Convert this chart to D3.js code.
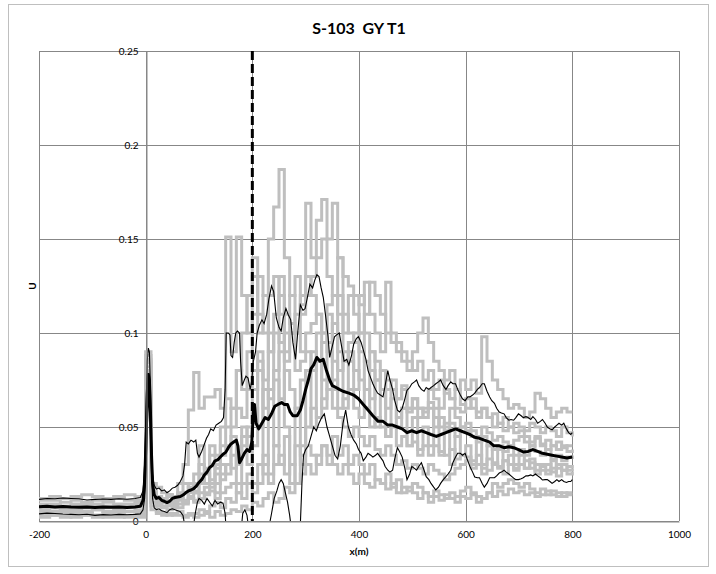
<!DOCTYPE html>
<html><head><meta charset="utf-8">
<script src="https://cdn.jsdelivr.net/npm/d3@7"></script>
<style>
html,body{margin:0;padding:0;background:#fff;}
svg{display:block;font-family:Lato,"Open Sans",sans-serif;}
</style></head>
<body><svg id="c" width="716" height="574"></svg>
<script>
// ---------- data ----------
const title = "S-103  GY T1";
const xTicks = [-200, 0, 200, 400, 600, 800, 1000];
const yTicks = [0, 0.05, 0.1, 0.15, 0.2, 0.25];
const yTickLabels = ["0", "0.05", "0.1", "0.15", "0.2", "0.25"];
const markerX = 200;

// gray step series: values at x = -200,-180,...,-20 then 0,10,...,800
const grayPre = [
  [0.012,0.013,0.012,0.013,0.014,0.013,0.012,0.013,0.014,0.013],
  [0.009,0.009,0.01,0.009,0.008,0.009,0.01,0.009,0.009,0.01],
  [0.006,0.007,0.006,0.006,0.007,0.006,0.005,0.006,0.007,0.006],
  [0.004,0.004,0.005,0.004,0.004,0.003,0.004,0.004,0.005,0.004],
  [0.008,0.007,0.008,0.008,0.007,0.008,0.008,0.007,0.008,0.008],
  [0.003,0.003,0.002,0.003,0.003,0.002,0.003,0.003,0.002,0.003],
  [0.011,0.011,0.012,0.011,0.01,0.011,0.011,0.012,0.011,0.011],
  [0.005,0.005,0.006,0.005,0.005,0.006,0.005,0.005,0.005,0.005],
  [0.007,0.008,0.007,0.008,0.009,0.008,0.007,0.008,0.008,0.009],
  [0.002,0.003,0.003,0.002,0.003,0.003,0.002,0.002,0.003,0.002]
];
const gray1 = [0.088,0.015,0.012,0.01,0.013,0.011,0.014,0.02,0.018,0.025,
  0.03,0.028,0.04,0.035,0.05,0.065,0.06,0.08,0.07,0.09,
  0.11,0.13,0.12,0.15,0.167,0.187,0.14,0.12,0.1,0.115,
  0.13,0.12,0.11,0.1,0.095,0.105,0.09,0.085,0.095,0.1,
  0.12,0.1,0.09,0.085,0.08,0.075,0.07,0.065,0.072,0.06,
  0.065,0.06,0.058,0.063,0.055,0.05,0.052,0.06,0.055,0.05,
  0.052,0.048,0.045,0.05,0.047,0.043,0.045,0.042,0.04,0.043,
  0.045,0.042,0.04,0.044,0.041,0.038,0.04,0.042,0.039,0.04,0.04];
const gray2 = [0.082,0.012,0.01,0.008,0.009,0.007,0.009,0.01,0.012,0.011,
  0.015,0.018,0.02,0.025,0.022,0.03,0.028,0.035,0.04,0.045,
  0.06,0.05,0.07,0.065,0.08,0.09,0.085,0.1,0.11,0.12,
  0.169,0.14,0.16,0.171,0.15,0.169,0.14,0.13,0.125,0.12,
  0.115,0.127,0.11,0.1,0.09,0.127,0.1,0.095,0.09,0.085,
  0.08,0.085,0.075,0.08,0.07,0.075,0.068,0.065,0.07,0.062,
  0.06,0.065,0.058,0.06,0.055,0.057,0.052,0.055,0.05,0.052,
  0.05,0.048,0.052,0.05,0.047,0.05,0.048,0.045,0.05,0.047,0.045];
const gray3 = [0.09,0.02,0.018,0.015,0.014,0.012,0.02,0.03,0.059,0.079,
  0.06,0.066,0.066,0.07,0.06,0.151,0.09,0.151,0.12,0.1,
  0.13,0.11,0.1,0.12,0.13,0.11,0.09,0.1,0.08,0.085,
  0.09,0.08,0.085,0.075,0.07,0.075,0.06,0.065,0.07,0.06,
  0.055,0.06,0.05,0.055,0.05,0.045,0.05,0.04,0.045,0.04,
  0.042,0.038,0.04,0.035,0.04,0.037,0.035,0.038,0.033,0.035,
  0.034,0.032,0.035,0.03,0.033,0.031,0.029,0.032,0.03,0.028,
  0.03,0.028,0.031,0.027,0.029,0.03,0.026,0.028,0.027,0.029,0.028];
const gray4 = [0.078,0.01,0.008,0.007,0.006,0.008,0.007,0.009,0.012,0.01,
  0.012,0.015,0.018,0.02,0.025,0.03,0.035,0.03,0.045,0.05,
  0.07,0.08,0.075,0.09,0.1,0.095,0.11,0.105,0.1,0.09,
  0.1,0.105,0.11,0.1,0.115,0.12,0.11,0.1,0.12,0.11,
  0.1,0.11,0.127,0.12,0.11,0.1,0.095,0.09,0.085,0.08,
  0.09,0.1,0.108,0.095,0.085,0.08,0.075,0.08,0.07,0.075,
  0.07,0.075,0.068,0.098,0.085,0.075,0.07,0.065,0.06,0.062,
  0.06,0.055,0.058,0.068,0.065,0.06,0.055,0.058,0.06,0.058,0.058];
const gray5 = [0.085,0.014,0.011,0.012,0.01,0.009,0.011,0.01,0.015,0.02,
  0.025,0.02,0.03,0.028,0.035,0.04,0.05,0.06,0.055,0.07,
  0.08,0.085,0.06,0.07,0.075,0.065,0.08,0.07,0.06,0.075,
  0.08,0.09,0.085,0.095,0.09,0.085,0.08,0.09,0.085,0.08,
  0.075,0.07,0.065,0.075,0.07,0.06,0.065,0.055,0.06,0.058,
  0.06,0.055,0.06,0.07,0.065,0.06,0.07,0.065,0.06,0.058,
  0.065,0.06,0.055,0.06,0.055,0.05,0.052,0.048,0.05,0.047,
  0.048,0.045,0.042,0.045,0.04,0.043,0.04,0.038,0.04,0.037,0.038];
const gray6 = [0.075,0.008,0.005,0.004,0.003,0.004,0.005,0.003,0.004,0.002,
  0.003,0.004,0.002,0.005,0.003,0.004,0.006,0.005,0.008,0.006,
  0.01,0.008,0.012,0.015,0.01,0.012,0.018,0.015,0.02,0.04,
  0.05,0.06,0.055,0.065,0.07,0.06,0.055,0.05,0.045,0.05,
  0.045,0.04,0.045,0.038,0.035,0.04,0.035,0.03,0.032,0.028,
  0.03,0.028,0.025,0.03,0.027,0.025,0.022,0.025,0.028,0.03,
  0.032,0.028,0.03,0.025,0.027,0.03,0.028,0.032,0.03,0.027,
  0.03,0.032,0.028,0.03,0.027,0.025,0.028,0.03,0.027,0.025,0.026];
const gray7 = [0.08,0.016,0.013,0.012,0.014,0.013,0.012,0.011,0.013,0.015,
  0.012,0.014,0.016,0.012,0.015,0.018,0.02,0.015,0.02,0.025,
  0.02,0.03,0.025,0.02,0.03,0.035,0.025,0.03,0.04,0.035,
  0.04,0.035,0.03,0.04,0.035,0.03,0.025,0.03,0.025,0.02,
  0.025,0.02,0.018,0.022,0.02,0.017,0.02,0.015,0.018,0.016,
  0.02,0.018,0.015,0.013,0.016,0.014,0.012,0.015,0.013,0.016,
  0.018,0.015,0.013,0.012,0.015,0.02,0.018,0.02,0.022,0.02,
  0.018,0.02,0.017,0.015,0.017,0.014,0.016,0.015,0.013,0.015,0.015];
const gray8 = [0.086,0.012,0.009,0.01,0.008,0.01,0.012,0.015,0.018,0.016,
  0.02,0.025,0.022,0.03,0.04,0.05,0.06,0.08,0.1,0.12,
  0.14,0.1,0.12,0.09,0.11,0.13,0.1,0.12,0.13,0.11,
  0.12,0.13,0.14,0.15,0.13,0.12,0.14,0.11,0.1,0.095,
  0.09,0.085,0.08,0.075,0.08,0.07,0.075,0.065,0.07,0.06,
  0.065,0.06,0.055,0.06,0.05,0.055,0.048,0.052,0.045,0.05,
  0.048,0.045,0.042,0.045,0.04,0.038,0.04,0.037,0.04,0.035,
  0.038,0.035,0.04,0.037,0.035,0.038,0.033,0.035,0.032,0.034,0.033];
const gray9 = [0.084,0.01,0.008,0.012,0.009,0.011,0.015,0.01,0.02,0.015,
  0.04,0.02,0.035,0.015,0.03,0.025,0.045,0.02,0.05,0.03,
  0.04,0.09,0.03,0.1,0.04,0.12,0.05,0.02,0.06,0.03,
  0.08,0.05,0.1,0.06,0.11,0.07,0.12,0.06,0.09,0.07,
  0.1,0.06,0.09,0.05,0.08,0.045,0.07,0.05,0.06,0.04,
  0.055,0.035,0.05,0.04,0.06,0.035,0.05,0.03,0.045,0.035,
  0.04,0.03,0.045,0.028,0.04,0.03,0.038,0.025,0.035,0.03,
  0.035,0.028,0.033,0.025,0.03,0.027,0.032,0.024,0.03,0.027,0.028];
const gray10 = [0.072,0.006,0.004,0.003,0.004,0.003,0.003,0.002,0.003,0.004,
  0.006,0.005,0.008,0.01,0.007,0.012,0.01,0.015,0.012,0.02,
  0.015,0.02,0.035,0.025,0.04,0.03,0.045,0.03,0.02,0.025,
  0.03,0.025,0.035,0.04,0.03,0.045,0.035,0.04,0.03,0.035,
  0.03,0.025,0.03,0.022,0.02,0.025,0.018,0.022,0.015,0.018,
  0.015,0.012,0.015,0.01,0.013,0.011,0.014,0.012,0.01,0.013,
  0.012,0.014,0.01,0.012,0.015,0.013,0.016,0.014,0.017,0.015,
  0.016,0.014,0.015,0.013,0.014,0.016,0.014,0.013,0.015,0.014,0.014];
const graySeries = [gray1, gray2, gray3, gray4, gray5, gray6, gray7, gray8, gray9, gray10];

const meanLine = [[-200,0.0076],[-185,0.0078],[-170,0.0075],[-155,0.0077],[-140,0.0074],[-125,0.0073],[-110,0.0075],[-95,0.0072],[-80,0.0074],[-65,0.0073],[-50,0.0074],[-35,0.0072],[-20,0.0075],[-10,0.0078],[-5,0.011],[-2,0.02],[1,0.045],[3,0.068],[5,0.078],[7,0.075],[9,0.058],[11,0.035],[13,0.02],[16,0.014],[20,0.012],[25,0.0125],[30,0.011],[35,0.0105],[40,0.0098],[45,0.0105],[50,0.012],[55,0.0125],[60,0.0128],[65,0.013],[70,0.0138],[75,0.015],[80,0.016],[85,0.0165],[90,0.0172],[95,0.0185],[100,0.0205],[105,0.022],[110,0.0245],[115,0.026],[120,0.0285],[125,0.0295],[130,0.032],[135,0.0325],[140,0.034],[145,0.0355],[150,0.0365],[155,0.039],[160,0.041],[165,0.042],[170,0.043],[173,0.04],[176,0.031],[180,0.033],[185,0.036],[190,0.038],[195,0.037],[199,0.042],[202,0.058],[204,0.062],[207,0.052],[212,0.049],[218,0.052],[224,0.055],[230,0.054],[236,0.057],[242,0.061],[248,0.062],[255,0.063],[260,0.062],[266,0.062],[271,0.058],[276,0.056],[284,0.056],[290,0.059],[295,0.064],[300,0.07],[305,0.075],[310,0.081],[315,0.083],[321,0.087],[327,0.085],[333,0.086],[339,0.08],[345,0.075],[350,0.072],[357,0.071],[363,0.07],[370,0.069],[381,0.068],[390,0.067],[399,0.065],[408,0.062],[417,0.059],[426,0.056],[436,0.053],[445,0.053],[454,0.051],[463,0.051],[472,0.05],[481,0.049],[490,0.047],[499,0.048],[508,0.047],[517,0.048],[526,0.047],[535,0.046],[545,0.045],[554,0.046],[563,0.047],[572,0.048],[581,0.049],[590,0.048],[599,0.047],[608,0.046],[617,0.0445],[626,0.044],[635,0.043],[645,0.042],[653,0.04],[663,0.04],[672,0.039],[681,0.0395],[690,0.039],[699,0.038],[708,0.0367],[717,0.037],[726,0.038],[735,0.037],[744,0.036],[753,0.0355],[762,0.035],[771,0.0345],[780,0.034],[790,0.0335],[800,0.034]];

const upperLine = [[-200,0.0115],[-185,0.012],[-170,0.0118],[-155,0.0122],[-140,0.012],[-125,0.0118],[-110,0.0112],[-95,0.0115],[-80,0.0117],[-65,0.0115],[-50,0.0118],[-35,0.0116],[-20,0.012],[-10,0.0125],[-5,0.016],[-2,0.03],[1,0.06],[3,0.085],[5,0.092],[7,0.09],[9,0.07],[11,0.042],[13,0.025],[16,0.019],[20,0.017],[25,0.0175],[30,0.016],[35,0.0165],[40,0.015],[45,0.016],[50,0.0175],[55,0.018],[60,0.019],[65,0.021],[70,0.024],[73,0.03],[76,0.042],[80,0.041],[85,0.043],[90,0.042],[94,0.043],[97,0.036],[100,0.034],[105,0.037],[109,0.04],[114,0.044],[118,0.046],[122,0.049],[127,0.048],[132,0.051],[137,0.052],[142,0.053],[146,0.055],[149,0.07],[151,0.1],[155,0.1],[158,0.099],[160,0.088],[163,0.087],[166,0.095],[169,0.1],[172,0.101],[176,0.1],[178,0.085],[181,0.072],[185,0.075],[188,0.077],[192,0.076],[196,0.07],[199,0.075],[202,0.085],[206,0.09],[209,0.1],[213,0.104],[218,0.107],[222,0.105],[227,0.11],[231,0.118],[236,0.125],[240,0.122],[245,0.108],[250,0.103],[254,0.101],[258,0.108],[263,0.113],[267,0.11],[272,0.107],[276,0.095],[281,0.086],[285,0.1],[290,0.115],[295,0.112],[299,0.113],[304,0.12],[308,0.126],[313,0.124],[317,0.128],[321,0.131],[325,0.13],[329,0.124],[333,0.119],[337,0.11],[342,0.098],[345,0.087],[350,0.093],[354,0.098],[358,0.099],[363,0.1],[368,0.092],[372,0.085],[377,0.086],[381,0.083],[386,0.088],[390,0.094],[395,0.097],[399,0.098],[404,0.095],[408,0.091],[413,0.086],[417,0.08],[422,0.076],[426,0.073],[431,0.07],[435,0.068],[440,0.067],[445,0.066],[449,0.072],[454,0.08],[458,0.075],[463,0.07],[467,0.064],[472,0.059],[476,0.058],[481,0.06],[486,0.065],[490,0.0695],[495,0.071],[499,0.073],[504,0.074],[508,0.075],[512,0.072],[517,0.07],[522,0.069],[526,0.071],[531,0.07],[535,0.071],[540,0.072],[544,0.073],[549,0.074],[553,0.075],[558,0.072],[563,0.07],[567,0.072],[572,0.074],[576,0.073],[581,0.073],[585,0.07],[590,0.067],[594,0.065],[599,0.064],[604,0.066],[608,0.066],[613,0.067],[617,0.068],[622,0.07],[626,0.071],[631,0.073],[635,0.073],[640,0.069],[645,0.066],[649,0.064],[654,0.0626],[658,0.06],[663,0.058],[667,0.0575],[672,0.057],[676,0.055],[681,0.0536],[685,0.054],[690,0.0536],[694,0.055],[699,0.057],[704,0.056],[708,0.055],[713,0.0555],[717,0.055],[722,0.054],[726,0.0555],[731,0.054],[735,0.052],[740,0.053],[744,0.054],[749,0.052],[753,0.05],[758,0.049],[762,0.0485],[767,0.05],[771,0.051],[775,0.052],[780,0.051],[784,0.052],[789,0.049],[793,0.047],[797,0.046],[800,0.047]];

const lowerLine = [[-200,0.0038],[-185,0.0042],[-170,0.004],[-155,0.0037],[-140,0.0035],[-125,0.0033],[-110,0.0036],[-95,0.003],[-80,0.0034],[-65,0.0032],[-50,0.0035],[-35,0.0033],[-20,0.0035],[-10,0.0038],[-5,0.006],[-2,0.012],[1,0.03],[3,0.05],[5,0.064],[7,0.06],[9,0.045],[11,0.025],[13,0.012],[16,0.007],[20,0.006],[25,0.0065],[30,0.0055],[35,0.005],[40,0.0045],[45,0.006],[50,0.0065],[55,0.006],[60,0.0055],[65,0.005],[70,0.003],[73,-0.002],[76,-0.01],[82,-0.012],[88,-0.006],[93,0.004],[97,0.01],[100,0.012],[105,0.011],[110,0.009],[115,0.012],[120,0.01],[125,0.008],[130,0.011],[135,0.009],[140,0.01],[145,0.0095],[149,0.004],[152,-0.01],[160,-0.02],[170,-0.02],[178,-0.008],[182,0.004],[186,0.006],[190,0.003],[194,-0.006],[200,-0.02],[210,-0.02],[222,-0.015],[230,-0.005],[236,0.004],[241,0.012],[246,0.016],[250,0.02],[254,0.022],[258,0.02],[262,0.015],[266,0.01],[270,0.003],[274,-0.006],[280,-0.01],[286,-0.008],[290,-0.002],[293,0.02],[296,0.035],[300,0.038],[305,0.04],[310,0.045],[315,0.05],[320,0.048],[325,0.052],[330,0.055],[335,0.057],[340,0.05],[345,0.045],[350,0.04],[355,0.035],[360,0.033],[365,0.04],[370,0.052],[375,0.059],[380,0.05],[385,0.046],[390,0.043],[395,0.041],[399,0.038],[404,0.036],[408,0.032],[413,0.034],[417,0.036],[422,0.035],[426,0.034],[431,0.035],[435,0.036],[440,0.034],[445,0.032],[449,0.029],[454,0.027],[458,0.026],[463,0.027],[467,0.033],[472,0.039],[476,0.037],[481,0.034],[486,0.028],[490,0.022],[495,0.025],[499,0.029],[504,0.028],[508,0.027],[512,0.029],[517,0.031],[522,0.027],[526,0.0236],[531,0.022],[535,0.02],[540,0.018],[544,0.0165],[549,0.018],[553,0.02],[558,0.022],[563,0.0236],[567,0.025],[572,0.027],[576,0.031],[581,0.034],[585,0.036],[590,0.036],[594,0.035],[599,0.036],[604,0.032],[608,0.029],[613,0.026],[617,0.0234],[622,0.023],[626,0.023],[631,0.02],[635,0.018],[640,0.02],[645,0.023],[649,0.023],[654,0.023],[658,0.024],[663,0.0255],[667,0.026],[672,0.027],[676,0.026],[681,0.025],[685,0.024],[690,0.0228],[694,0.022],[699,0.022],[704,0.0225],[708,0.023],[713,0.024],[717,0.024],[722,0.0245],[726,0.024],[731,0.025],[735,0.024],[740,0.023],[744,0.0218],[749,0.022],[753,0.022],[758,0.021],[762,0.02],[767,0.021],[771,0.022],[775,0.021],[780,0.022],[784,0.021],[789,0.0205],[793,0.021],[797,0.021],[800,0.022]];

// ---------- drawing ----------
const svg = d3.select("#c");
const L = 39, R = 679, T = 51, B = 521;
const x = d3.scaleLinear().domain([-200, 1000]).range([L, R]);
const y = d3.scaleLinear().domain([0, 0.25]).range([B, T]);

svg.append("rect").attr("x", 0).attr("y", 0).attr("width", 716).attr("height", 574).attr("fill", "#fff");
svg.append("rect").attr("x", 8.5).attr("y", 4.5).attr("width", 700).attr("height", 562)
  .attr("fill", "none").attr("stroke", "#bfbfbf").attr("stroke-width", 1);

// gridlines
const grid = svg.append("g").attr("stroke", "#878787").attr("stroke-width", 1);
yTicks.forEach(v => grid.append("line").attr("x1", L).attr("x2", R)
  .attr("y1", Math.round(y(v)) + 0.5).attr("y2", Math.round(y(v)) + 0.5));
xTicks.forEach(v => grid.append("line").attr("x1", Math.round(x(v)) + 0.5).attr("x2", Math.round(x(v)) + 0.5)
  .attr("y1", T).attr("y2", B));

svg.append("defs").append("clipPath").attr("id", "clip").append("rect")
  .attr("x", L).attr("y", T).attr("width", R - L).attr("height", B - T);
const plot = svg.append("g").attr("clip-path", "url(#clip)");

const grayX = d3.range(-200, 0, 20).concat(d3.range(0, 801, 10));
const stepLine = d3.line().x(d => x(d[0])).y(d => y(d[1])).curve(d3.curveStepAfter);
graySeries.forEach((s, i) => {
  const vals = grayPre[i].concat(s);
  const pts = grayX.map((gx, j) => [gx, vals[j]]);
  plot.append("path").attr("d", stepLine(pts)).attr("fill", "none")
    .attr("stroke", "#bfbfbf").attr("stroke-width", 3).attr("stroke-linejoin", "miter");
});

const line = d3.line().x(d => x(d[0])).y(d => y(d[1]));
[upperLine, lowerLine].forEach(s => plot.append("path").attr("d", line(s)).attr("fill", "none")
  .attr("stroke", "#000").attr("stroke-width", 1.1));
plot.append("path").attr("d", line(meanLine)).attr("fill", "none")
  .attr("stroke", "#000").attr("stroke-width", 3).attr("stroke-linejoin", "round");

plot.append("line").attr("x1", x(markerX)).attr("x2", x(markerX)).attr("y1", y(0.25)).attr("y2", y(0))
  .attr("stroke", "#000").attr("stroke-width", 3).attr("stroke-dasharray", "9,4");

// y axis at x=0
const yAxis = d3.axisLeft(y).tickValues(yTicks).tickFormat((d, i) => yTickLabels[i]).tickSize(0).tickPadding(8);
const ya = svg.append("g").attr("transform", `translate(${Math.round(x(0)) + 0.5},0)`).call(yAxis);
ya.select(".domain").attr("stroke", "#878787");
ya.selectAll("text").attr("font-family", "Lato, sans-serif").attr("font-size", 10).attr("fill", "#000");

// x axis labels
const xAxis = d3.axisBottom(x).tickValues(xTicks).tickFormat(d => String(d)).tickSize(0).tickPadding(9);
const xa = svg.append("g").attr("transform", `translate(0,${B + 0.5})`).call(xAxis);
xa.select(".domain").attr("stroke", "#878787");
xa.selectAll("text").attr("font-family", "Lato, sans-serif").attr("font-size", 10).attr("fill", "#000");

// titles
svg.append("text").attr("x", 359).attr("y", 34).attr("text-anchor", "middle").style("white-space", "pre")
  .attr("font-family", "Lato, sans-serif").attr("font-weight", "bold").attr("font-size", 16).text(title);
svg.append("text").attr("x", (L + R) / 2).attr("y", 555).attr("text-anchor", "middle")
  .attr("font-family", "Lato, sans-serif").attr("font-weight", "bold").attr("font-size", 10).text("x(m)");
svg.append("text").attr("transform", `translate(36,${(T + B) / 2}) rotate(-90)`).attr("text-anchor", "middle")
  .attr("font-family", "Lato, sans-serif").attr("font-weight", "bold").attr("font-size", 10).text("U");
</script></body></html>
